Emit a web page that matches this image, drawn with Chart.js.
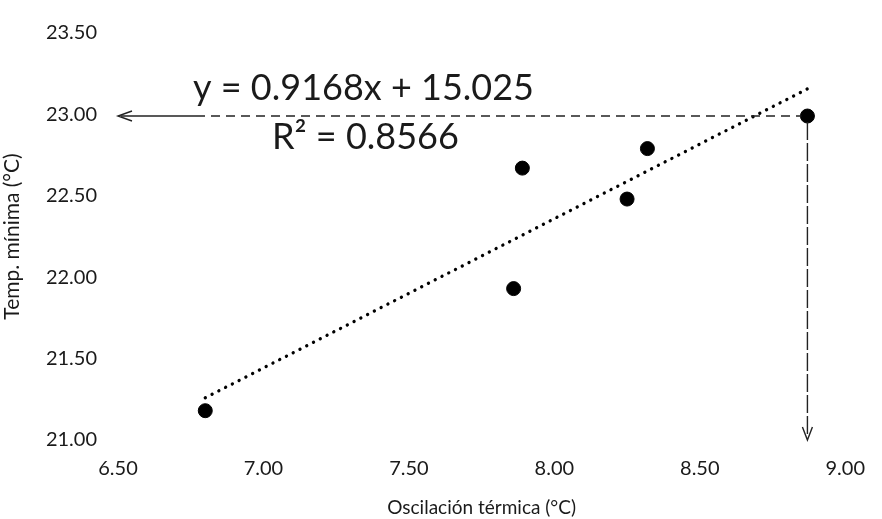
<!DOCTYPE html>
<html>
<head>
<meta charset="utf-8">
<script src="https://cdn.jsdelivr.net/npm/chart.js@4.4.1/dist/chart.umd.min.js"></script>
<style>
  html, body { margin: 0; padding: 0; background: #fff; }
  #wrap { width: 882px; height: 519px; position: relative; }
</style>
</head>
<body>
<div id="wrap"><canvas id="scatterChart"></canvas></div>
<script>
// Oscilación térmica vs temperatura mínima
const oscilacion = [6.80, 7.86, 7.89, 8.25, 8.32, 8.87];
const tempMinima = [21.18, 21.93, 22.67, 22.48, 22.79, 22.99];

// Linear trend (as printed on the chart)
const pendiente = 0.9168;
const intercepto = 15.025;
const r2 = 0.8566;

// Axis ranges
const xTicks = [6.5, 7.0, 7.5, 8.0, 8.5, 9.0];
const yTicks = [21.0, 21.5, 22.0, 22.5, 23.0, 23.5];

// Point that gets
const lecturaIdx = 5;

const FONT = 'Lato, "Open Sans", sans-serif';
const INK = '#1a1a1a';

const puntos = oscilacion.map((x, i) => ({ x: x, y: tempMinima[i] }));
const xMin = Math.min(...oscilacion);
const xMax = Math.max(...oscilacion);
const tendencia = [xMin, xMax].map(x => ({ x: x, y: pendiente * x + intercepto }));

// Equation text plus the two guide arrows from the last point
const anotaciones = {
    id: 'anotaciones',
    afterDatasetsDraw(chart) {
        const ctx = chart.ctx;
        const xs = chart.scales.x;
        const ys = chart.scales.y;
        const px = xs.getPixelForValue(oscilacion[lecturaIdx]);
        const py = ys.getPixelForValue(tempMinima[lecturaIdx]);
        const left = xs.getPixelForValue(xTicks[0]);
        const bottom = ys.getPixelForValue(yTicks[0]);

        ctx.save();
        ctx.strokeStyle = '#222';
        ctx.lineWidth = 1.4;

        // horizontal guide to the y axis: solid near the axis, dashed after
        ctx.beginPath();
        ctx.moveTo(left + 3, py);
        ctx.lineTo(left + 78, py);
        ctx.stroke();
        ctx.setLineDash([9, 6]);
        ctx.beginPath();
        ctx.moveTo(left + 78, py);
        ctx.lineTo(px - 6, py);
        ctx.stroke();
        ctx.setLineDash([]);
        ctx.beginPath();
        ctx.moveTo(left + 14, py - 5);
        ctx.lineTo(left, py);
        ctx.lineTo(left + 14, py + 5);
        ctx.stroke();

        // vertical guide to the x axis
        ctx.setLineDash([18, 3]);
        ctx.beginPath();
        ctx.moveTo(px, py + 6);
        ctx.lineTo(px, bottom - 4);
        ctx.stroke();
        ctx.setLineDash([]);
        ctx.beginPath();
        ctx.moveTo(px - 5, bottom - 13);
        ctx.lineTo(px, bottom);
        ctx.lineTo(px + 5, bottom - 13);
        ctx.stroke();

        // regression label
        ctx.fillStyle = INK;
        ctx.textBaseline = 'alphabetic';
        ctx.textAlign = 'left';
        ctx.font = '36px ' + FONT;
        ctx.fillText('y = ' + pendiente.toFixed(4) + 'x + ' + intercepto.toFixed(3), 193, 100);
        ctx.fillText('R² = ' + r2.toFixed(4), 272, 149);
        ctx.restore();
    }
};

const ctx = document.getElementById('scatterChart').getContext('2d');
const chart = new Chart(ctx, {
    type: 'scatter',
    data: {
        datasets: [
            {
                label: 'Temp. mínima',
                data: puntos,
                backgroundColor: '#000',
                borderColor: '#000',
                pointRadius: 7,
                pointHoverRadius: 7,
                order: 1
            },
            {
                label: 'Lineal',
                type: 'line',
                data: tendencia,
                borderColor: '#000',
                borderWidth: 3.3,
                borderDash: [0.1, 7.5],
                borderCapStyle: 'round',
                pointRadius: 0,
                fill: false,
                order: 2
            }
        ]
    },
    options: {
        responsive: true,
        maintainAspectRatio: false,
        animation: false,
        layout: { padding: { top: 26, right: 25, left: 0, bottom: 0 } },
        plugins: {
            legend: { display: false },
            tooltip: { enabled: false }
        },
        scales: {
            x: {
                type: 'linear',
                min: xTicks[0],
                max: xTicks[xTicks.length - 1],
                afterBuildTicks: s => { s.ticks = xTicks.map(v => ({ value: v })); },
                afterFit: s => { s.height = 79; },
                border: { display: false },
                grid: { display: false, drawTicks: false },
                ticks: {
                    padding: 17,
                    color: INK,
                    font: { family: FONT, size: 20 },
                    callback: v => v.toFixed(2)
                },
                title: {
                    display: true,
                    text: 'Oscilación térmica (°C)',
                    color: INK,
                    font: { family: FONT, size: 19 },
                    padding: { top: 8, bottom: 0 }
                }
            },
            y: {
                min: yTicks[0],
                max: yTicks[yTicks.length - 1],
                afterBuildTicks: s => { s.ticks = yTicks.map(v => ({ value: v })); },
                afterFit: s => { s.width = 118; },
                border: { display: false },
                grid: { display: false, drawTicks: false },
                ticks: {
                    padding: 21,
                    color: INK,
                    font: { family: FONT, size: 20 },
                    callback: v => v.toFixed(2)
                },
                title: {
                    display: true,
                    text: 'Temp. mínima (°C)',
                    color: INK,
                    font: { family: FONT, size: 21 },
                    padding: { top: 0, bottom: 0 }
                }
            }
        }
    },
    plugins: [anotaciones]
});
</script>
</body>
</html>
